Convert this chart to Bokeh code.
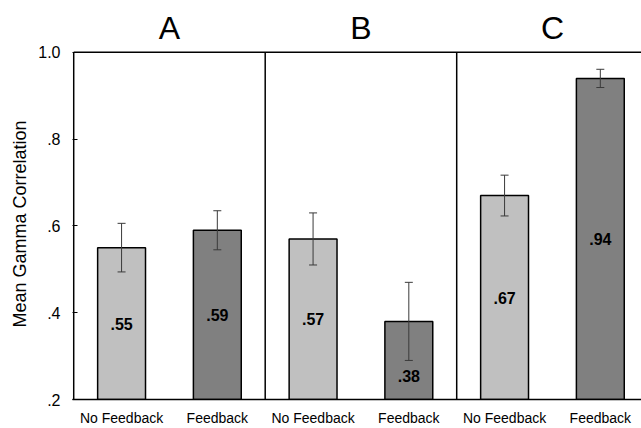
from bokeh.plotting import figure
from bokeh.models import (Range1d, FixedTicker, Whisker, TeeHead,
                          ColumnDataSource, Title)
from bokeh.core.properties import value
from bokeh.embed import file_html
from bokeh.resources import INLINE

# ---- data ----
panels = ["A", "B", "C"]
conditions = ["No Feedback", "Feedback", "No Feedback", "Feedback", "No Feedback", "Feedback"]
values = [0.55, 0.59, 0.57, 0.38, 0.67, 0.94]
errors = [0.056, 0.045, 0.060, 0.090, 0.047, 0.021]
value_labels = [".55", ".59", ".57", ".38", ".67", ".94"]
y_ticks = [0.2, 0.4, 0.6, 0.8, 1.0]
y_tick_labels = [".2", ".4", ".6", ".8", "1.0"]
y_title = "Mean Gamma Correlation"

FONT = "Liberation Sans"
base = 0.2
top_val = 1.0
xs = list(range(1, len(values) + 1))
colors = ["#c0c0c0" if c == "No Feedback" else "#808080" for c in conditions]
upper = [v + e for v, e in zip(values, errors)]
lower = [v - e for v, e in zip(values, errors)]
label_y = [min((base + v) / 2, lo - 0.035) for v, lo in zip(values, lower)]

px_per_x = 95.75
px_per_y = 435.0
frame_left = 72
frame_w = 641 - frame_left
frame_h = 428 - 28
x0 = 0.5 - 1.2 / px_per_x
x1 = x0 + frame_w / px_per_x
y1 = base + frame_h / px_per_y

p = figure(width=641, height=428, output_backend="svg", toolbar_location=None,
           x_range=Range1d(x0, x1), y_range=Range1d(base, y1),
           min_border_left=frame_left, min_border_right=0, min_border_top=0,
           min_border_bottom=28)
p.outline_line_color = None
p.grid.visible = False
p.background_fill_color = "white"
p.border_fill_color = "white"

src = ColumnDataSource(dict(x=xs, top=values, color=colors, upper=upper,
                            lower=lower, ly=label_y, lab=value_labels))
p.vbar(x="x", top="top", bottom=base, width=0.5, fill_color="color",
       line_color="black", line_width=1.5, source=src)

w = Whisker(base="x", upper="upper", lower="lower", source=src,
            line_color="#3a3a3a", line_width=1, level="overlay",
            upper_head=TeeHead(size=8, line_color="#3a3a3a", line_width=1),
            lower_head=TeeHead(size=8, line_color="#3a3a3a", line_width=1))
p.add_layout(w)

p.text(x="x", y="ly", text="lab", source=src, text_align="center",
       text_baseline="middle", text_font=value(FONT),
       text_font_size="16px", text_font_style="bold", text_color="black")

# left spine, panel dividers and top line
n_panels = len(panels)
div_x = [0.5 + 2 * i for i in range(n_panels)]
p.segment(x0=div_x, x1=div_x, y0=[base] * len(div_x), y1=[top_val] * len(div_x),
          line_color="black", line_width=1.5)
p.segment(x0=[0.5], x1=[0.5 + 2 * n_panels], y0=[top_val], y1=[top_val],
          line_color="black", line_width=1.5)

# panel titles
title_x = [1.5 + 2 * i for i in range(n_panels)]
title_y = [top_val + 24 / px_per_y] * n_panels
p.text(x=title_x, y=title_y, text=panels,
       text_align="center", text_baseline="alphabetic",
       text_font=value(FONT), text_font_size="32px", text_color="black")

# axes
p.yaxis.ticker = FixedTicker(ticks=y_ticks)
p.yaxis.major_label_overrides = {t: l for t, l in zip(y_ticks, y_tick_labels)}
p.yaxis.major_tick_in = 5
p.yaxis.major_tick_out = 0
p.yaxis.minor_tick_line_color = None
p.yaxis.axis_line_color = None
p.yaxis.major_tick_line_color = "black"
p.yaxis.major_tick_line_width = 1.2
p.yaxis.major_label_text_font = FONT
p.yaxis.major_label_text_font_size = "16px"
p.yaxis.major_label_text_color = "black"
p.yaxis.major_label_standoff = 12

# y-axis title, placed along the 0.2-1.0 span
ytitle = Title(text=y_title, align="left", offset=72,
               text_font=FONT, text_font_size="18px", text_font_style="normal",
               text_color="black", standoff=11)
p.add_layout(ytitle, "left")

p.xaxis.ticker = FixedTicker(ticks=xs)
p.xaxis.major_label_overrides = {x: c for x, c in zip(xs, conditions)}
p.xaxis.major_tick_line_color = None
p.xaxis.minor_tick_line_color = None
p.xaxis.axis_line_color = "black"
p.xaxis.axis_line_width = 1.5
p.xaxis.major_label_text_font = FONT
p.xaxis.major_label_text_font_size = "14px"
p.xaxis.major_label_text_color = "black"
p.xaxis.major_label_standoff = 4

open("out.html", "w").write(file_html(p, INLINE))
